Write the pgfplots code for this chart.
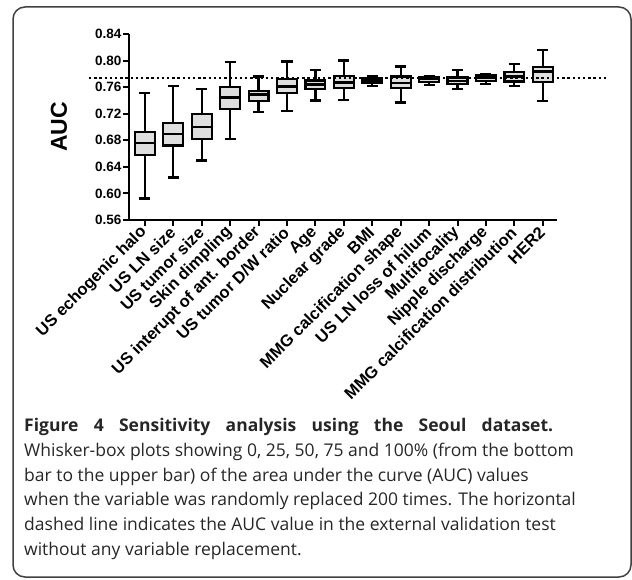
\documentclass[border=0pt]{standalone}
\usepackage{fontspec}
\setmainfont{Liberation Sans}
\newfontfamily\capfont{Open Sans}
\usepackage{pgfplots}
\usepackage{pgfplotstable}
\pgfplotsset{compat=1.18}

\definecolor{boxfill}{HTML}{DEDEDE}

% AUC over 200 random replacements: min, Q1, median, Q3, max
\pgfplotstableread{
pos lw     lq     med    uq     uw
0   0.5925 0.6580 0.6765 0.6930 0.7510
1   0.6240 0.6720 0.6900 0.7065 0.7620
2   0.6495 0.6820 0.7000 0.7195 0.7575
3   0.6820 0.7270 0.7445 0.7600 0.7975
4   0.7220 0.7390 0.7490 0.7545 0.7760
5   0.7235 0.7515 0.7610 0.7720 0.7985
6   0.7400 0.7570 0.7640 0.7700 0.7860
7   0.7410 0.7590 0.7670 0.7770 0.8000
8   0.7620 0.7670 0.7700 0.7735 0.7760
9   0.7370 0.7590 0.7660 0.7760 0.7910
10  0.7630 0.7680 0.7720 0.7750 0.7770
11  0.7570 0.7650 0.7690 0.7745 0.7860
12  0.7650 0.7690 0.7735 0.7775 0.7800
13  0.7615 0.7685 0.7760 0.7825 0.7945
14  0.7390 0.7675 0.7835 0.7900 0.8165
}\auc

\tikzset{
  whisk/.style={black, line width=2.2pt, line cap=butt},
  boxst/.style={fill=boxfill, draw=black, line width=2.2pt, line join=miter},
}

\begin{document}
\begin{tikzpicture}
\useasboundingbox (0pt,0pt) rectangle (632pt,579pt);
\draw[line width=1.5pt, black!75, rounded corners=12pt] (13pt,572pt) rectangle (631pt,2pt);

\begin{axis}[
  at={(129pt,359pt)}, anchor=south west,
  scale only axis, width=428pt, height=186pt,
  xmin=-0.56, xmax=14.5, ymin=0.56, ymax=0.84,
  clip=false,
  axis x line=bottom, axis y line=left,
  axis line style={-, line width=2pt},
  every tick/.style={black, line width=2pt},
  major tick length=6pt,
  tick align=outside,
  xtick={0,1,2,3,4,5,6,7,8,9,10,11,12,13,14},
  xticklabels={US echogenic halo, US LN size, US tumor size, Skin dimpling,
    US interupt of ant. border, US tumor D/W ratio, Age, Nuclear grade, BMI,
    MMG calcification shape, US LN loss of hilum, Multifocality,
    Nipple discharge, MMG calcification distribution, HER2},
  xticklabel style={font=\bfseries\fontsize{16.5}{17}\selectfont, rotate=45, anchor=east, inner sep=1pt},
  xticklabel shift=3pt,
  ytick={0.56,0.60,0.64,0.68,0.72,0.76,0.80,0.84},
  yticklabel style={font=\bfseries\fontsize{13.5}{14}\selectfont, inner sep=1.5pt,
    /pgf/number format/.cd, fixed, fixed zerofill, precision=2, assume math mode=true},
  ylabel={AUC},
  ylabel style={font=\bfseries\fontsize{23}{24}\selectfont, at={(axis description cs:-0.1636,0.5)}, anchor=center},
]
\pgfplotsinvokeforeach{0,...,14}{
  \pgfplotstablegetelem{#1}{lw}\of\auc \let\vLW\pgfplotsretval
  \pgfplotstablegetelem{#1}{lq}\of\auc \let\vLQ\pgfplotsretval
  \pgfplotstablegetelem{#1}{med}\of\auc \let\vMED\pgfplotsretval
  \pgfplotstablegetelem{#1}{uq}\of\auc \let\vUQ\pgfplotsretval
  \pgfplotstablegetelem{#1}{uw}\of\auc \let\vUW\pgfplotsretval
  \pgfmathsetmacro\bL{#1-0.35}\pgfmathsetmacro\bR{#1+0.35}
  \pgfmathsetmacro\cL{#1-0.195}\pgfmathsetmacro\cR{#1+0.195}
  \edef\doplot{
    \noexpand\addplot[whisk] coordinates {(#1,\vLW) (#1,\vUW)};
    \noexpand\addplot[whisk] coordinates {(\cL,\vLW) (\cR,\vLW)};
    \noexpand\addplot[whisk] coordinates {(\cL,\vUW) (\cR,\vUW)};
    \noexpand\addplot[boxst] coordinates {(\bL,\vLQ) (\bR,\vLQ) (\bR,\vUQ) (\bL,\vUQ)} -- cycle;
    \noexpand\addplot[whisk] coordinates {(\bL,\vMED) (\bR,\vMED)};
  }
  \doplot
}
% reference AUC without replacement
\addplot[black, line width=2.4pt, dash pattern=on 2.4pt off 2.8pt] coordinates {(-1.97,0.774) (16.29,0.774)};
\end{axis}

\begin{scope}[every node/.style={anchor=base west, inner sep=0pt, text=black!85,
    font=\capfont\fontsize{17.5}{20}\selectfont}]
\node at (24pt,148pt) {\makebox[529pt][s]{\bfseries Figure 4 Sensitivity analysis using the Seoul dataset.}};
\node at (24pt,123pt) {Whisker-box plots showing 0, 25, 50, 75 and 100\% (from the bottom};
\node at (24pt,98pt) {bar to the upper bar) of the area under the curve (AUC) values};
\node at (24pt,74pt) {when the variable was randomly replaced 200 times. The horizontal};
\node at (24pt,49pt) {dashed line indicates the AUC value in the external validation test};
\node at (24pt,24pt) {without any variable replacement.};
\end{scope}
\end{tikzpicture}
\end{document}
